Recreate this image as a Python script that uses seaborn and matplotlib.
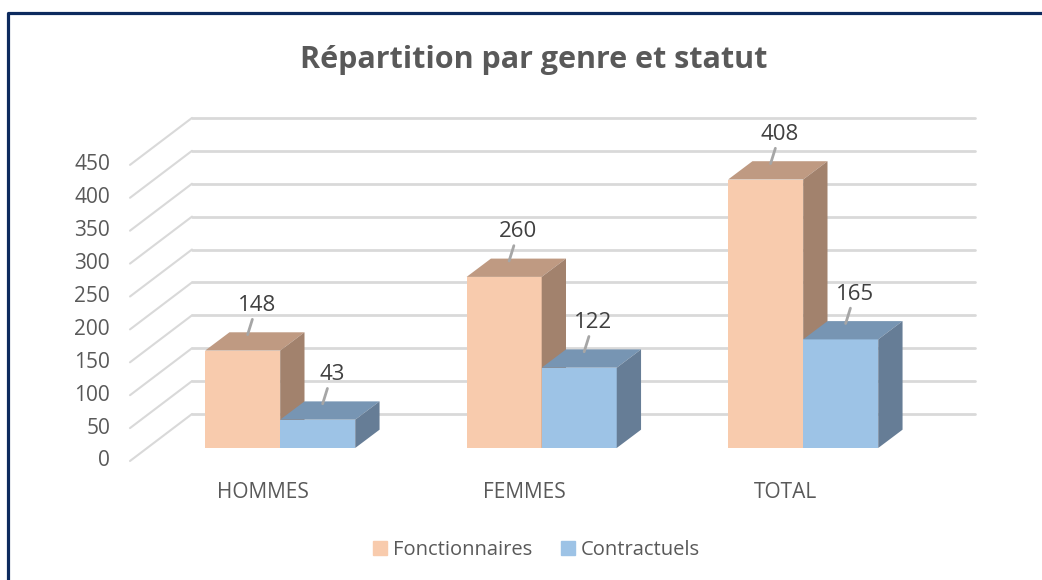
import pandas as pd
import seaborn as sns
import matplotlib.pyplot as plt
from matplotlib.patches import Polygon
from matplotlib.lines import Line2D

# Data
categories = ['HOMMES', 'FEMMES', 'TOTAL']
fonctionnaires = [148, 260, 408]
contractuels = [43, 122, 165]
series = ['Fonctionnaires', 'Contractuels']
yticks = [0, 50, 100, 150, 200, 250, 300, 350, 400, 450]

df = pd.DataFrame({
    'categorie': categories * 2,
    'valeur': fonctionnaires + contractuels,
    'statut': [series[0]] * 3 + [series[1]] * 3,
})

# Colors: front, top, side
front = ['#F8CBAD', '#9DC3E6']
top = ['#BF9A82', '#7795B3']
side = ['#A2826D', '#667D96']
grid = '#D9D9D9'
text_col = '#595959'

sns.set_theme(style='white')
plt.rcParams['font.family'] = ['Open Sans', 'DejaVu Sans']

fig = plt.figure(figsize=(10.42, 5.8), dpi=100)
ax = fig.add_axes([0, 0, 1, 1])

sns.barplot(data=df, x='categorie', y='valeur', hue='statut', palette=front,
            width=0.574, saturation=1, linewidth=0, legend=False, ax=ax)

# fake 3D: depth of the walls and of the bars (category units / value units)
DX, DY = 0.237, 71.4
ox, oy = 0.0657, 19.8
bdx, bdy = 0.093, 27.8

# back wall and side wall grid
xl, xr = -0.5086, 2.723
for v in yticks:
    ax.plot([xl, xl + DX], [v, v + DY], color=grid, lw=1.5, zorder=0)
    ax.plot([xl + DX, xr], [v + DY, v + DY], color=grid, lw=2, zorder=0)
    ax.text(-0.585, v, str(v), ha='right', va='center', fontsize=15,
            color=text_col)

for i, cont in enumerate(ax.containers):
    for p in cont.patches:
        p.set_x(p.get_x() + ox)
        p.set_y(oy)
        p.set_zorder(2 + i)
        x0, y0, w, h = p.get_x(), p.get_y(), p.get_width(), p.get_height()
        ax.add_patch(Polygon([(x0, y0 + h), (x0 + w, y0 + h),
                              (x0 + w + bdx, y0 + h + bdy), (x0 + bdx, y0 + h + bdy)],
                             closed=True, facecolor=top[i], lw=0, zorder=2 + i))
        ax.add_patch(Polygon([(x0 + w, y0), (x0 + w + bdx, y0 + bdy),
                              (x0 + w + bdx, y0 + h + bdy), (x0 + w, y0 + h)],
                             closed=True, facecolor=side[i], lw=0, zorder=2 + i))
        xc = x0 + w / 2
        ax.annotate(f'{int(h)}', xy=(xc, y0 + h), xytext=(14, 45),
                    textcoords='offset pixels', ha='center', va='center',
                    fontsize=16, color='#404040', zorder=5,
                    arrowprops=dict(arrowstyle='-', color='#A6A6A6', lw=2,
                                    shrinkA=0, shrinkB=12))

# category labels on the front floor edge
for i, c in enumerate(categories):
    ax.text(i, -48.6, c, ha='center', va='center', fontsize=15, color=text_col)

ax.set_xlim(-1.00574, 2.97897)
ax.set_ylim(-180.85, 700.6)
ax.axis('off')

fig.text(0.512, 0.896, 'Répartition par genre et statut', ha='center', va='center',
         fontsize=22, fontweight='bold', color=text_col)

handles = [Line2D([], [], marker='s', ls='', markersize=10, color=front[k])
           for k in range(2)]
fig.legend(handles, series, loc='center', bbox_to_anchor=(0.515, 0.052), ncol=2,
           frameon=False, fontsize=14.5, labelcolor=text_col, handlelength=0.7,
           handletextpad=0.3, columnspacing=1.4)

# chart frame
bx, by = 8 / 1042, 1 - 13 / 580
fig.add_artist(Line2D([bx, bx, 1], [0, by, by], color='#0D2A5E', lw=2.3,
                      transform=fig.transFigure))

fig.savefig('out.png', dpi=100)
